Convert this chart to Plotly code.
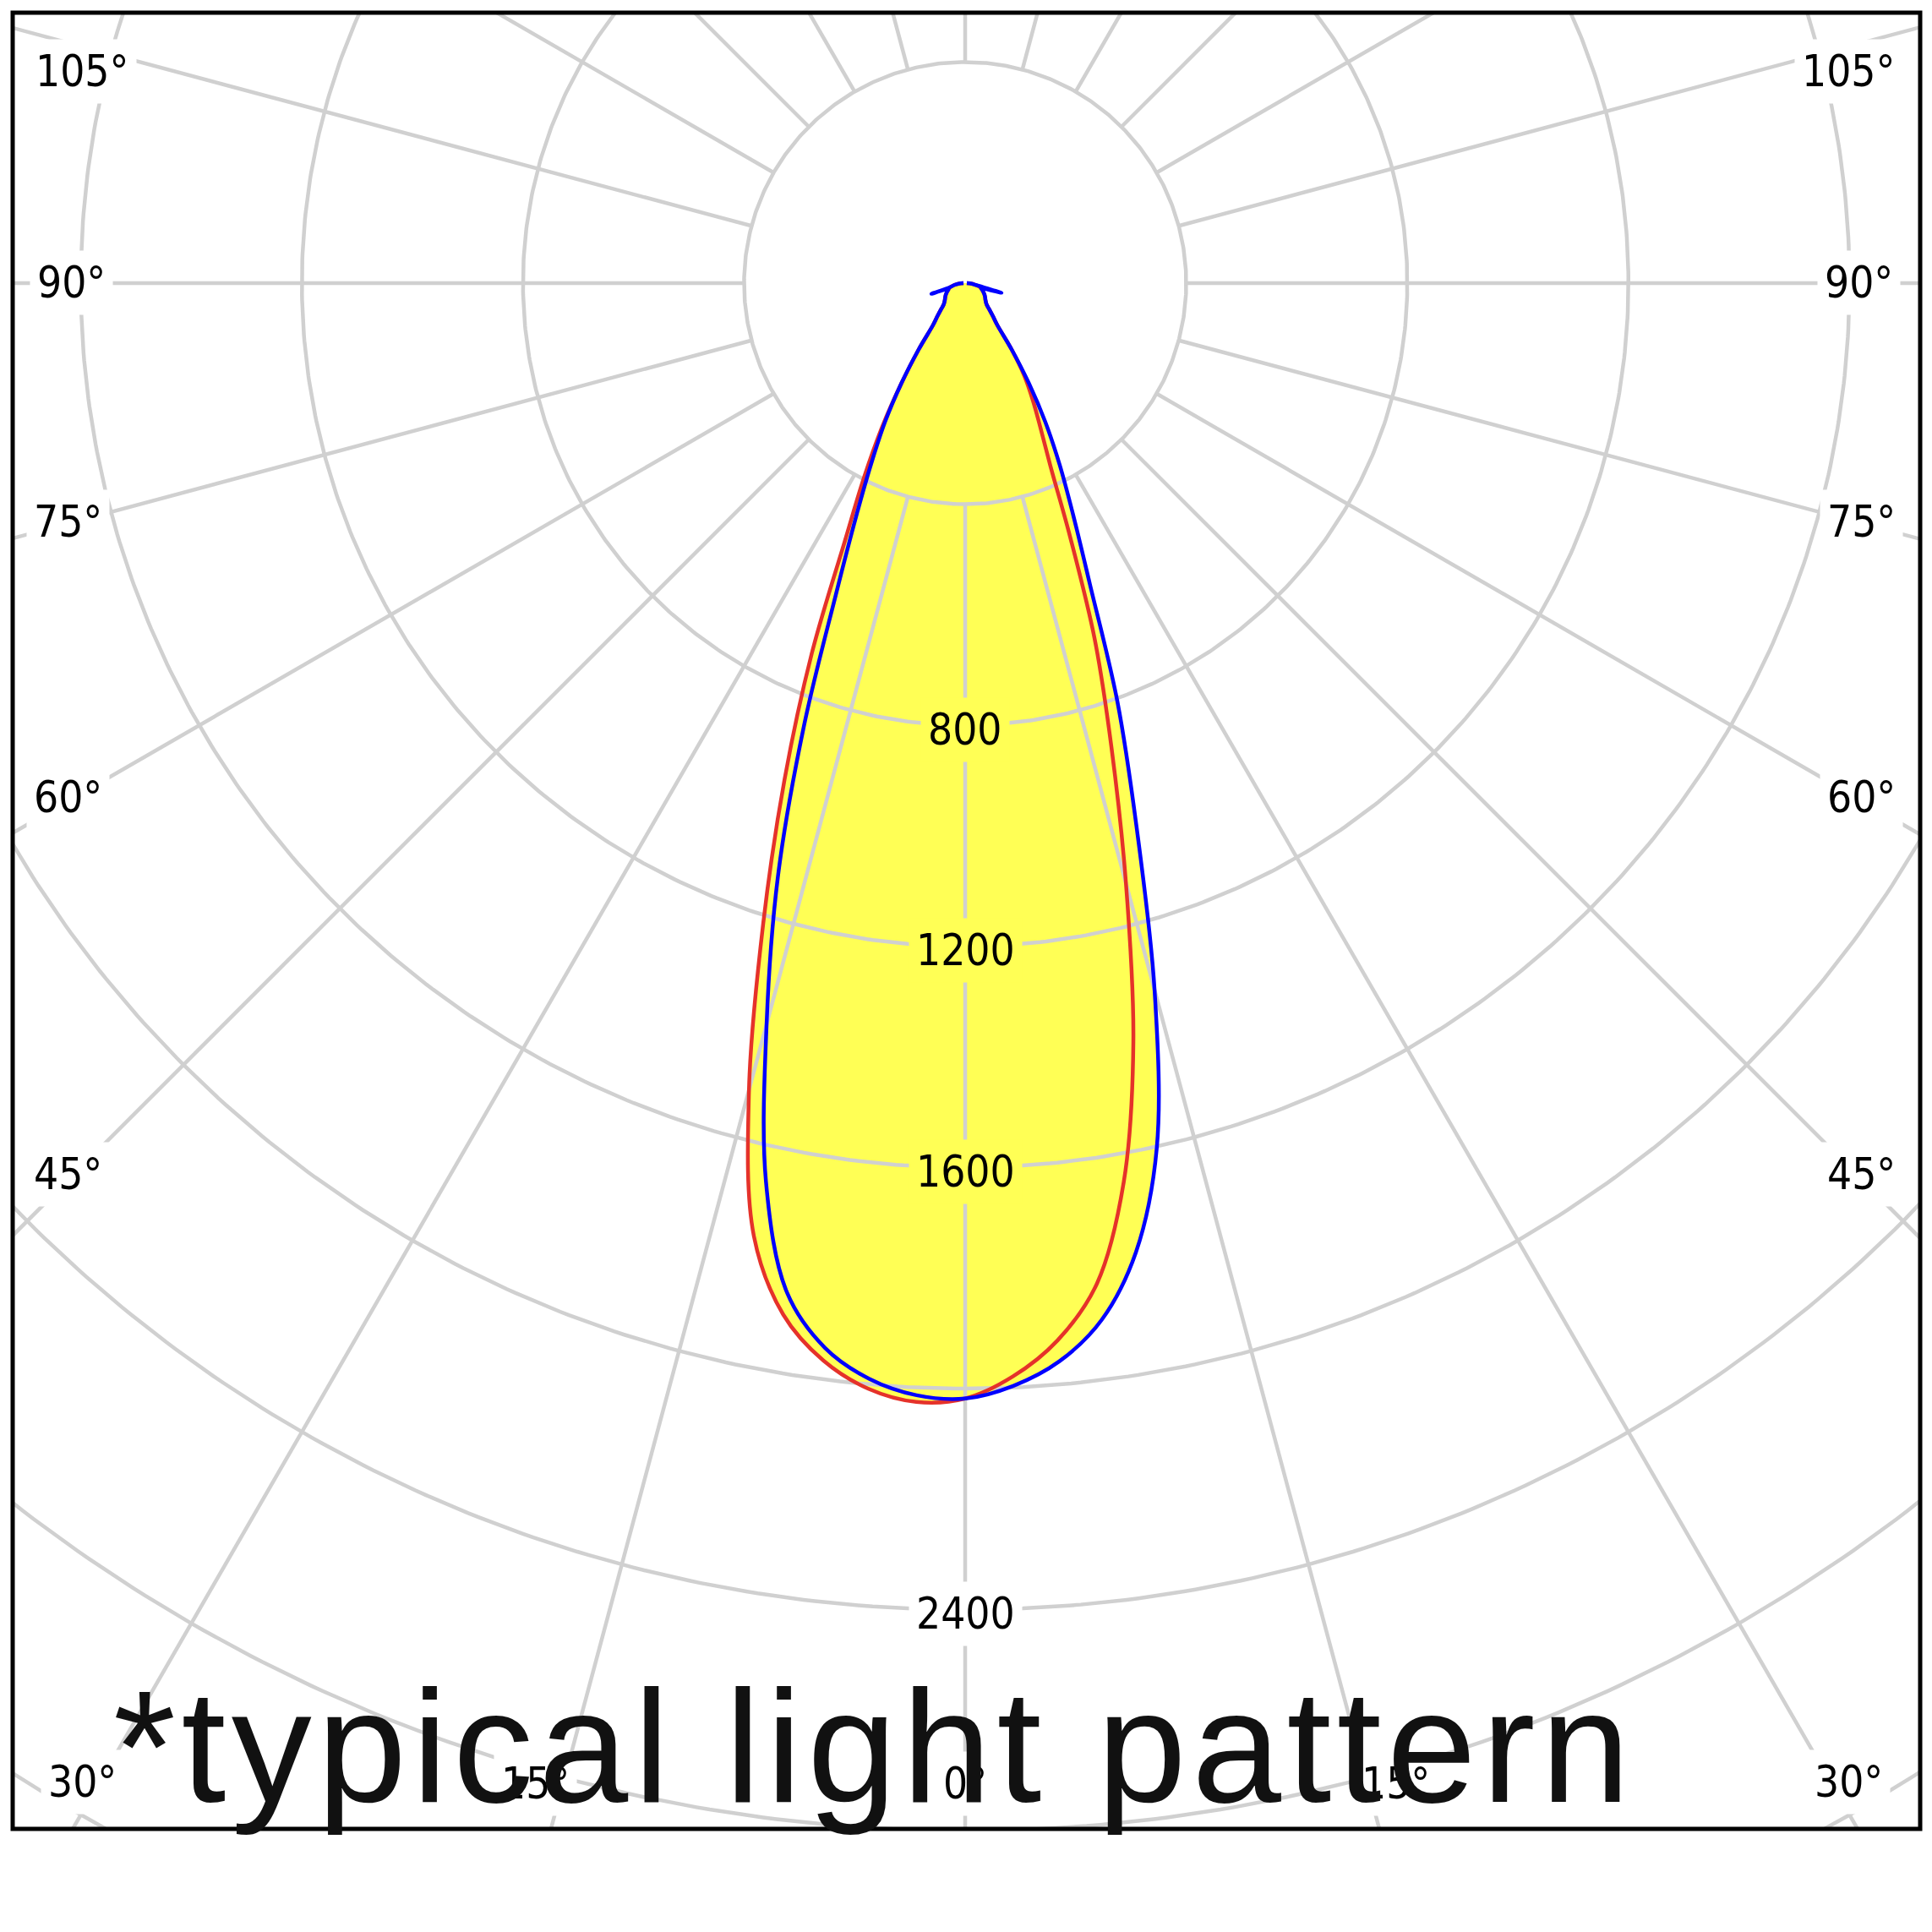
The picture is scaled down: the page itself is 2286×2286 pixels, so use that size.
import numpy as np
import plotly.graph_objects as go

# ---------------- data (candela, angle from nadir in degrees) ----------------
ANGLES = [0, 2.5, 5, 7.5, 10, 12.5, 15, 17.5, 20, 22.5, 25, 27.5, 30, 32.5, 35,
          37.5, 40, 42.5, 45, 50, 55, 60, 65, 70, 72.5, 75, 80, 85, 90]
C0 = [2018, 1980, 1920, 1826, 1652, 1406, 1124, 880, 685, 495, 365, 295, 245, 200, 147,
      95, 78, 65, 55, 48, 44, 40, 36, 32, 30, 28, 20, 12, 3]
C180 = [2018, 2026, 2008, 1966, 1895, 1766, 1511, 1215, 955, 725, 515, 396, 300, 214, 147,
        95, 78, 65, 55, 48, 44, 40, 36, 32, 30, 28, 20, 12, 3]
C90 = [2018, 1997, 1958, 1892, 1780, 1602, 1324, 1031, 805, 590, 462, 370, 290, 214, 147,
       95, 78, 65, 55, 48, 44, 40, 36, 32, 30, 68, 20, 12, 3]
C270 = [2018, 2014, 1990, 1943, 1855, 1665, 1388, 1127, 853, 613, 468, 368, 290, 214, 147,
        95, 78, 65, 55, 48, 44, 40, 36, 32, 64, 28, 20, 12, 3]

RINGS = [400, 800, 1200, 1600, 2000, 2400, 2800, 3200, 3600]
SPOKES = list(range(0, 360, 15))
RING_LABELS = [800, 1200, 1600, 2400]
ANGLE_LABELS = ["105°", "90°", "75°", "60°", "45°", "30°",
                "105°", "90°", "75°", "60°", "45°", "30°",
                "15°", "0°", "15°"]
FOOTNOTE = "*typical light pattern"

# ---------------- geometry of the page ----------------
PAGE = 2286
OFF = 8                                  # default body margin of the html page
W = H = PAGE - 2 * OFF
FL, FR, FT, FB = 15, 2272, 15, 2164      # frame (plot area) in page pixels
CX, CY = 1142, 335                       # pole position in page pixels
K = 0.654                                # pixels per candela

ANGLE_LABEL_PX = [(97, 84), (84, 334), (80, 617), (80, 943), (80, 1389), (97, 2108),
                  (2187, 84), (2199, 334), (2202, 617), (2202, 943), (2202, 1389), (2187, 2108),
                  (633, 2110), (1142, 2110), (1651, 2110)]


def px2data(px, py):
    return (px - CX) / K, (CY - py) / K


def half_plane(angles, values, side):
    a = np.radians(np.asarray(angles, dtype=float))
    r = np.asarray(values, dtype=float)
    return side * r * np.sin(a), -r * np.cos(a)


def curve(left_vals, right_vals):
    xl, yl = half_plane(ANGLES, left_vals, -1)
    xr, yr = half_plane(ANGLES, right_vals, 1)
    x = np.concatenate([xl[::-1], xr[1:]])
    y = np.concatenate([yl[::-1], yr[1:]])
    return x, y


YELLOW = "#ffff55"
RED = "#e5322a"
BLUE = "#0000ff"
GRID = "#d0d0d0"

red_x, red_y = curve(C180, C0)
blue_x, blue_y = curve(C270, C90)

fig = go.Figure()

# yellow fills
for x, y in [(red_x, red_y), (blue_x, blue_y)]:
    fig.add_trace(go.Scatter(x=x, y=y, mode="lines", fill="toself", fillcolor=YELLOW,
                             line=dict(width=0, color=YELLOW, shape="spline", smoothing=1.0),
                             hoverinfo="skip"))

# polar grid
gx, gy = [], []
t = np.radians(np.linspace(0, 360, 721))
for r in RINGS:
    gx += list(r * np.sin(t)) + [None]
    gy += list(-r * np.cos(t)) + [None]
for a in SPOKES:
    ar = np.radians(a)
    gx += [RINGS[0] * np.sin(ar), 5000 * np.sin(ar), None]
    gy += [-RINGS[0] * np.cos(ar), -5000 * np.cos(ar), None]
fig.add_trace(go.Scatter(x=gx, y=gy, mode="lines", line=dict(color=GRID, width=4.5),
                         hoverinfo="skip"))

# photometric curves
fig.add_trace(go.Scatter(x=red_x, y=red_y, mode="lines",
                         line=dict(color=RED, width=4.5, shape="spline", smoothing=1.0),
                         name="C0-C180"))
fig.add_trace(go.Scatter(x=blue_x, y=blue_y, mode="lines",
                         line=dict(color=BLUE, width=4.5, shape="spline", smoothing=1.0),
                         name="C90-C270"))

LABEL_FONT = dict(family="DejaVu Sans Condensed, DejaVu Sans, sans-serif", size=51, color="black")

annotations = []
for txt, (px, py) in zip(ANGLE_LABELS, ANGLE_LABEL_PX):
    x, y = px2data(px, py)
    annotations.append(dict(x=x, y=y, xref="x", yref="y", text=txt, showarrow=False,
                            font=LABEL_FONT, bgcolor="white", borderpad=8,
                            xanchor="center", yanchor="middle"))

for r in RING_LABELS:
    inside = r < min(C0[0], C90[0])
    annotations.append(dict(x=0, y=-r, xref="x", yref="y", text=str(r), showarrow=False,
                            font=LABEL_FONT, bgcolor=YELLOW if inside else "white",
                            borderpad=8, xanchor="center", yanchor="middle", yshift=-5))

fx, fy = px2data(132, 2066)
annotations.append(dict(x=fx, y=fy, xref="x", yref="y",
                        text='<span style="letter-spacing:6.5px">' + FOOTNOTE + "</span>",
                        showarrow=False,
                        font=dict(family="Liberation Sans, Arial, sans-serif", size=190,
                                  color="#111111"),
                        xanchor="left", yanchor="middle"))

x0, _ = px2data(FL, 0)
x1, _ = px2data(FR, 0)
_, y0 = px2data(0, FB)
_, y1 = px2data(0, FT)

fig.update_layout(
    width=W, height=H,
    margin=dict(l=FL - OFF, r=(OFF + W) - FR, t=FT - OFF, b=(OFF + H) - FB, pad=0),
    paper_bgcolor="white", plot_bgcolor="white",
    showlegend=False,
    xaxis=dict(range=[x0, x1], visible=False, fixedrange=True),
    yaxis=dict(range=[y0, y1], visible=False, fixedrange=True),
    annotations=annotations,
    shapes=[dict(type="rect", xref="paper", yref="paper", x0=0, x1=1, y0=0, y1=1,
                 line=dict(color="black", width=5), layer="above")],
)

fig.write_html("out.html")
